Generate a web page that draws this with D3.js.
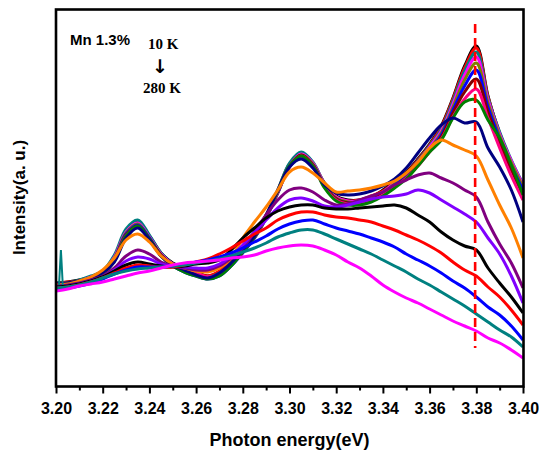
<!DOCTYPE html>
<html lang="en">
<head>
<meta charset="utf-8">
<title>PL spectra Mn 1.3%</title>
<script src="https://d3js.org/d3.v7.min.js"></script>
<style>
  body { margin: 0; background: #fff; }
  text { font-family: "Liberation Sans", Arial, sans-serif; font-weight: bold; }
</style>
</head>
<body>
<script>
// photon energy grid (eV)
const energy = [3.200, 3.205, 3.210, 3.215, 3.220, 3.225, 3.230, 3.235, 3.240, 3.245,
  3.250, 3.255, 3.260, 3.265, 3.270, 3.275, 3.280, 3.285, 3.290, 3.295,
  3.300, 3.305, 3.310, 3.315, 3.320, 3.325, 3.330, 3.335, 3.340, 3.345,
  3.350, 3.355, 3.360, 3.365, 3.370, 3.375, 3.380, 3.385, 3.390, 3.395, 3.400];

// colour of each spectrum, 10 K first, 280 K last
const lineColors = ["#000000", "#ff0000", "#008080", "#ff00ff", "#808000", "#0000ff",
  "#800000", "#ff0080", "#008000", "#000080", "#ff8000", "#800080",
  "#8000ff", "#000000", "#ff0000", "#0000ff", "#008080", "#ff00ff"];

// intensity (a. u.), one row per temperature
const spectra = [
  [103,104,106,109,114,128,154,164,150,133,123,118,114,110,114,124,136,150,170,195,221,233,223,203,190,186,186,189,196,205,214,227,242,260,288,320,340,290,252,223,198],
  [102,104,105,109,115,129,155,163,149,132,122,117,113,110,115,125,137,151,171,196,222,232,222,202,189,185,186,190,195,204,213,226,241,259,287,318,338,289,253,224,200],
  [103,103,106,110,115,131,157,166,151,133,122,116,112,109,113,123,136,150,170,196,223,234,224,202,188,184,185,188,194,203,212,225,240,257,285,315,334,288,254,226,202],
  [102,103,105,109,114,129,154,163,149,132,122,117,113,109,112,122,135,149,169,194,220,232,223,202,189,185,185,188,194,203,211,224,239,255,282,311,329,286,252,225,201],
  [101,103,105,108,114,128,153,162,148,131,121,116,112,108,111,121,134,148,168,193,219,231,222,201,188,184,184,187,193,202,210,223,237,253,279,306,323,283,250,223,199],
  [101,102,104,108,113,127,152,161,148,130,120,114,110,107,110,120,133,148,168,193,219,230,221,200,187,183,183,186,193,201,209,222,236,251,276,300,316,279,247,220,196],
  [102,103,105,108,113,126,151,160,147,131,121,115,111,108,111,121,134,149,169,194,220,231,221,200,187,183,183,186,192,200,208,221,235,249,273,294,307,274,243,216,191],
  [101,102,104,108,113,126,150,159,146,130,121,116,112,109,112,122,135,149,169,194,219,230,220,199,186,182,182,185,191,199,208,220,234,247,269,287,297,268,238,210,186],
  [101,102,104,107,112,125,150,160,147,130,120,114,110,107,110,120,134,149,170,195,220,230,220,198,185,181,181,184,190,198,207,220,234,246,268,284,286,266,248,221,191],
  [102,103,105,108,113,124,148,158,146,130,121,116,111,108,113,123,136,150,171,196,219,227,218,201,193,191,192,195,200,207,218,233,248,261,268,263,264,238,219,196,164],
  [101,102,105,109,116,128,146,152,144,130,122,118,115,114,118,128,148,164,179,196,214,219,213,203,194,195,196,198,201,205,213,224,238,246,241,236,230,206,181,158,128],
  [100,101,103,106,110,118,130,136,132,124,120,118,116,116,120,128,138,154,171,186,196,198,194,186,181,182,186,190,194,201,206,211,213,208,203,196,189,164,142,123,98],
  [99,100,102,105,109,116,125,129,127,122,120,119,118,118,122,130,141,154,166,178,186,188,185,180,179,181,184,187,189,190,192,196,193,186,179,172,164,148,132,110,83],
  [99,100,102,105,109,115,121,124,122,120,119,120,122,123,126,136,148,158,168,175,179,181,181,178,177,177,178,179,180,181,178,171,164,154,146,140,136,118,103,89,73],
  [98,99,101,104,108,113,118,121,120,119,119,121,124,127,132,138,145,152,158,166,171,174,174,171,169,168,166,164,160,156,151,146,140,133,124,116,110,99,89,76,61],
  [97,98,100,103,107,112,116,119,119,119,120,122,124,126,129,133,138,144,150,157,162,165,166,162,158,155,152,148,144,139,132,126,120,113,105,98,89,79,71,60,46],
  [98,99,101,104,108,112,115,117,118,119,120,121,123,125,127,130,134,138,143,149,153,156,156,152,147,142,137,132,126,120,114,107,101,94,87,80,72,64,56,49,39],
  [95,97,100,102,104,107,110,113,115,118,121,123,124,125,126,128,129,131,135,138,140,141,140,136,131,124,118,110,101,94,88,83,77,71,65,60,55,48,43,36,28]
];

// narrow glitch in one of the high temperature spectra near the left edge
const spikeEnergy = [3.2013, 3.2021, 3.2029];
const spikeValue = [101, 136, 101];

const majorTicks = [3.20, 3.22, 3.24, 3.26, 3.28, 3.30, 3.32, 3.34, 3.36, 3.38, 3.40];
const minorTicks = [3.21, 3.23, 3.25, 3.27, 3.29, 3.31, 3.33, 3.35, 3.37, 3.39];
const markerEnergy = 3.3795;
const markerRange = [38, 362];

const w = 539, h = 452;
const plotLeft = 56, plotRight = 523, plotTop = 9, plotBottom = 386;

const svg = d3.select("body").append("svg")
  .attr("width", w)
  .attr("height", h);

const xScale = d3.scaleLinear().domain([3.20, 3.40]).range([plotLeft, plotRight]);
const yScale = d3.scaleLinear().domain([0, 377]).range([plotBottom, plotTop]);

svg.append("clipPath").attr("id", "plotclip")
  .append("rect")
  .attr("x", plotLeft).attr("y", plotTop)
  .attr("width", plotRight - plotLeft).attr("height", plotBottom - plotTop);

const line = d3.line()
  .x((d, i) => xScale(energy[i]))
  .y(d => yScale(d))
  .curve(d3.curveCatmullRom.alpha(0.5));

const plot = svg.append("g").attr("clip-path", "url(#plotclip)");

plot.selectAll("path.spec")
  .data(spectra)
  .enter().append("path")
  .attr("class", "spec")
  .attr("d", d => line(d))
  .attr("fill", "none")
  .attr("stroke", (d, i) => lineColors[i])
  .attr("stroke-width", 3)
  .attr("stroke-linejoin", "round");

plot.append("path")
  .attr("d", d3.line()
    .x((d, i) => xScale(spikeEnergy[i]))
    .y(d => yScale(d))(spikeValue))
  .attr("fill", "none")
  .attr("stroke", "#008080")
  .attr("stroke-width", 2);

// red dashed marker at the main peak
svg.append("line")
  .attr("x1", xScale(markerEnergy)).attr("x2", xScale(markerEnergy))
  .attr("y1", yScale(markerRange[1])).attr("y2", yScale(markerRange[0]))
  .attr("stroke", "#ff0000")
  .attr("stroke-width", 2.6)
  .attr("stroke-dasharray", "9,5");

// frame
svg.append("rect")
  .attr("x", plotLeft).attr("y", plotTop + 0.5)
  .attr("width", plotRight - plotLeft + 0.5).attr("height", plotBottom - plotTop)
  .attr("fill", "none")
  .attr("stroke", "#000")
  .attr("stroke-width", 2.6);

// x axis, major + minor ticks
const xAxis = d3.axisBottom(xScale)
  .tickValues(majorTicks)
  .tickFormat(d3.format(".2f"))
  .tickSize(7);

const gx = svg.append("g")
  .attr("transform", `translate(0, ${plotBottom + 0.5})`)
  .call(xAxis);
gx.select(".domain").remove();
gx.selectAll(".tick line").attr("stroke-width", 2);
gx.selectAll(".tick text")
  .attr("y", 16)
  .attr("dy", "0.71em")
  .style("font-size", "16px")
  .style("font-family", "'Liberation Sans', Arial, sans-serif")
  .style("font-weight", "bold")
  .attr("fill", "#000");

const gxm = svg.append("g")
  .attr("transform", `translate(0, ${plotBottom + 0.5})`)
  .call(d3.axisBottom(xScale).tickValues(minorTicks).tickSize(4).tickFormat(""));
gxm.select(".domain").remove();
gxm.selectAll(".tick line").attr("stroke-width", 2);

// axis titles
svg.append("text")
  .attr("x", (plotLeft + plotRight) / 2)
  .attr("y", 446)
  .attr("text-anchor", "middle")
  .style("font-size", "18px")
  .text("Photon energy(eV)");

svg.append("text")
  .attr("transform", `translate(25, ${(plotTop + plotBottom) / 2}) rotate(-90)`)
  .attr("text-anchor", "middle")
  .style("font-size", "17px")
  .text("Intensity(a. u.)");

// annotations
svg.append("text")
  .attr("x", 70).attr("y", 45)
  .style("font-size", "15px")
  .text("Mn 1.3%");

svg.append("text")
  .attr("x", 148).attr("y", 49)
  .style("font-family", "'Liberation Serif', 'Times New Roman', serif")
  .style("font-size", "15px")
  .text("10 K");

svg.append("text")
  .attr("x", 160).attr("y", 73)
  .attr("text-anchor", "middle")
  .style("font-family", "'DejaVu Sans', sans-serif")
  .style("font-size", "19px")
  .text("\u2193");

svg.append("text")
  .attr("x", 143).attr("y", 93)
  .style("font-family", "'Liberation Serif', 'Times New Roman', serif")
  .style("font-size", "15px")
  .text("280 K");
</script>
</body>
</html>
